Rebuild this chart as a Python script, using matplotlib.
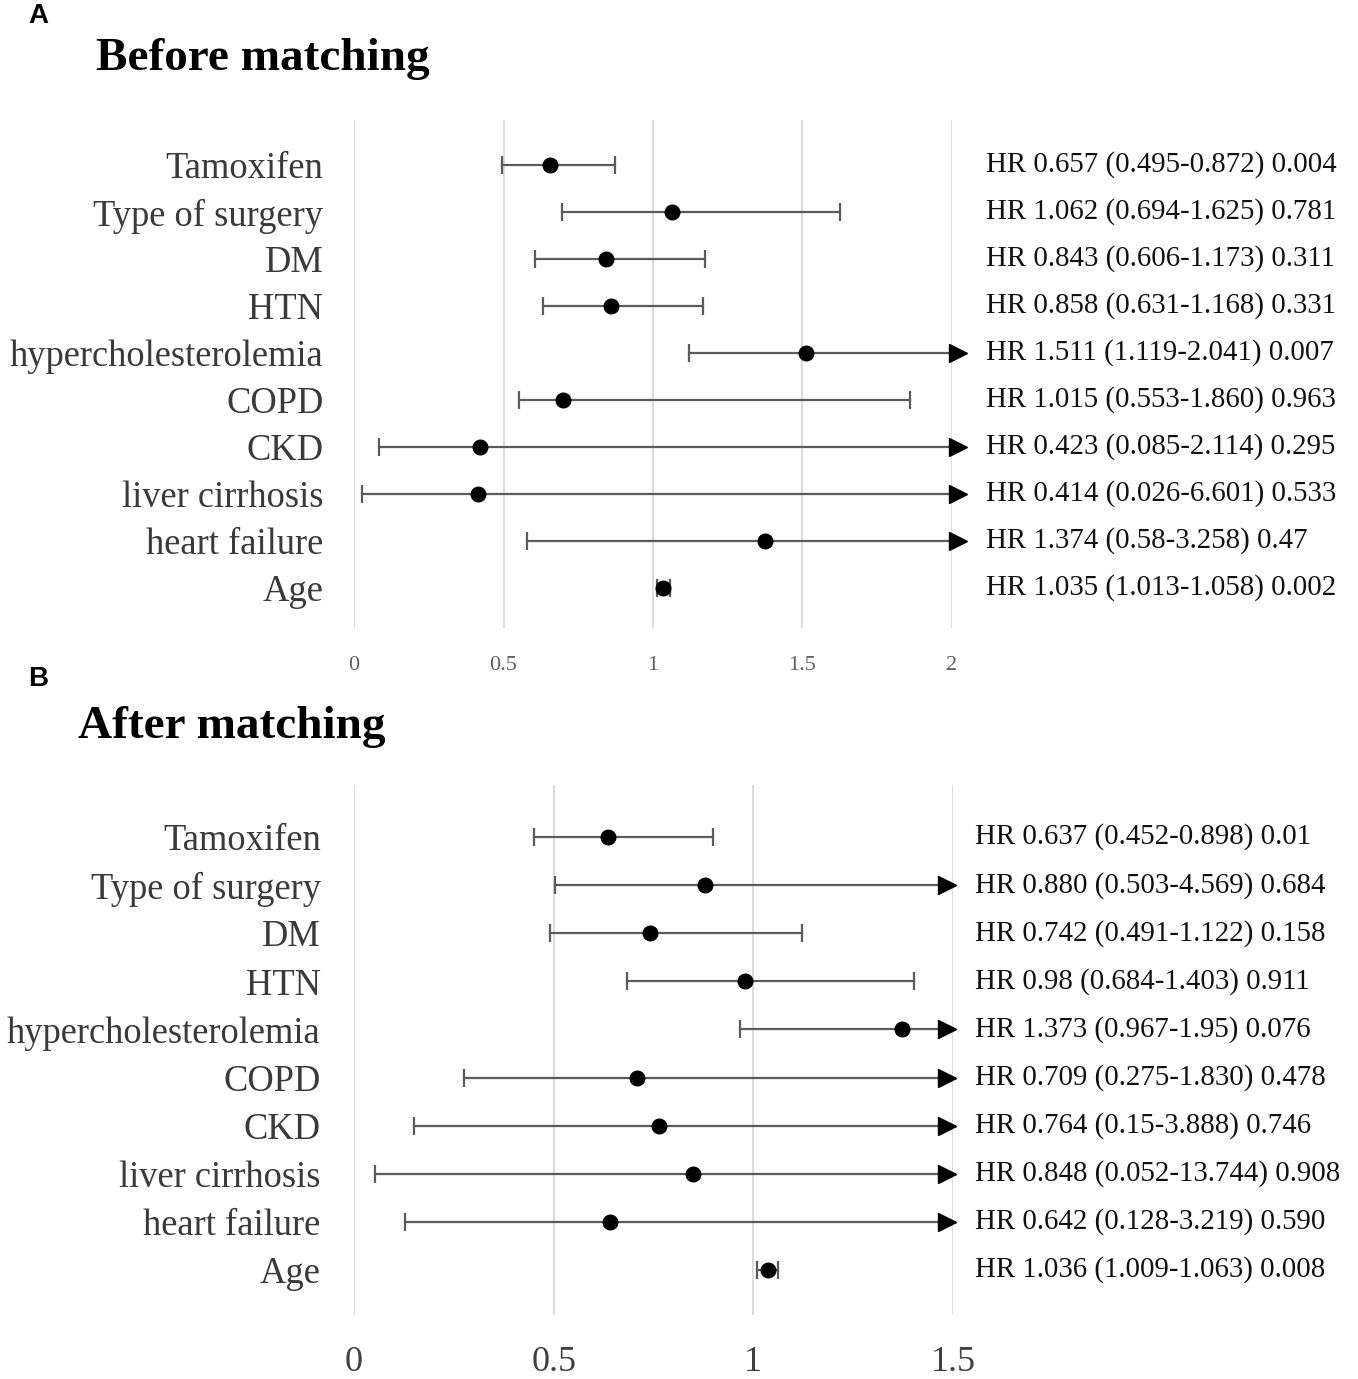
import matplotlib
matplotlib.use("Agg")
import matplotlib.pyplot as plt
import matplotlib.transforms as mtransforms

plt.rcParams['font.family'] = ['Liberation Serif', 'DejaVu Serif']

categories = ["Tamoxifen", "Type of surgery", "DM", "HTN", "hypercholesterolemia",
              "COPD", "CKD", "liver cirrhosis", "heart failure", "Age"]

# Panel A: before matching (point positions as drawn in the picture)
hr_a = [0.657, 1.062, 0.843, 0.858, 1.511, 0.70, 0.423, 0.414, 1.374, 1.035]
lo_a = [0.495, 0.694, 0.606, 0.631, 1.119, 0.553, 0.085, 0.026, 0.58, 1.013]
hi_a = [0.872, 1.625, 1.173, 1.168, 2.041, 1.860, 2.114, 6.601, 3.258, 1.058]
txt_a = ["HR 0.657 (0.495-0.872) 0.004", "HR 1.062 (0.694-1.625) 0.781",
         "HR 0.843 (0.606-1.173) 0.311", "HR 0.858 (0.631-1.168) 0.331",
         "HR 1.511 (1.119-2.041) 0.007", "HR 1.015 (0.553-1.860) 0.963",
         "HR 0.423 (0.085-2.114) 0.295", "HR 0.414 (0.026-6.601) 0.533",
         "HR 1.374 (0.58-3.258) 0.47", "HR 1.035 (1.013-1.058) 0.002"]
ticks_a = [0, 0.5, 1, 1.5, 2]
ticklabels_a = ["0", "0.5", "1", "1.5", "2"]

# Panel B: after matching
hr_b = [0.637, 0.880, 0.742, 0.98, 1.373, 0.709, 0.764, 0.848, 0.642, 1.036]
lo_b = [0.452, 0.503, 0.491, 0.684, 0.967, 0.275, 0.15, 0.052, 0.128, 1.009]
hi_b = [0.898, 4.569, 1.122, 1.403, 1.95, 1.830, 3.888, 13.744, 3.219, 1.063]
txt_b = ["HR 0.637 (0.452-0.898) 0.01", "HR 0.880 (0.503-4.569) 0.684",
         "HR 0.742 (0.491-1.122) 0.158", "HR 0.98 (0.684-1.403) 0.911",
         "HR 1.373 (0.967-1.95) 0.076", "HR 0.709 (0.275-1.830) 0.478",
         "HR 0.764 (0.15-3.888) 0.746", "HR 0.848 (0.052-13.744) 0.908",
         "HR 0.642 (0.128-3.219) 0.590", "HR 1.036 (1.009-1.063) 0.008"]
ticks_b = [0, 0.5, 1, 1.5]
ticklabels_b = ["0", "0.5", "1", "1.5"]

W, H = 1358, 1379
fig = plt.figure(figsize=(W / 100, H / 100), dpi=100)
fig.patch.set_facecolor('white')

LINE = '#5a5a5a'
GRID = '#d9d9d9'


def panel(box, hr, lo, hi, txt, ticks, ticklabels, ylim, arrow_off_px,
          tick_fs, tick_color, tick_pad, lab_pad, txt_x):
    l, t, r, b = box
    ax = fig.add_axes([l / W, 1 - b / H, (r - l) / W, (b - t) / H])
    xmax = ticks[-1]
    ax.set_xlim(0, xmax)
    ax.set_ylim(*ylim)
    for s in ax.spines.values():
        s.set_visible(False)
    ax.set_xticks(ticks)
    ax.set_xticklabels(ticklabels, fontsize=tick_fs, color=tick_color)
    ax.tick_params(axis='x', length=0, pad=tick_pad)
    ax.grid(axis='x', color=GRID, lw=1.3)
    ax.set_axisbelow(True)
    ys = list(range(len(categories)))
    ax.set_yticks(ys)
    ax.set_yticklabels(categories, fontsize=26.3, color='#3a3a3a')
    ax.tick_params(axis='y', length=0, pad=lab_pad)
    off = mtransforms.offset_copy(ax.transData, fig=fig, x=arrow_off_px / 100,
                                  y=0, units='inches')
    for i, y in enumerate(ys):
        right = min(hi[i], xmax)
        ax.plot([lo[i], right], [y, y], color=LINE, lw=1.6, zorder=2)
        ax.plot([lo[i]], [y], marker='|', ms=13, mew=1.6, color=LINE, zorder=2)
        if hi[i] > xmax:
            ax.plot([xmax], [y], marker='>', ms=13, color='black', mec='black',
                    transform=off, clip_on=False, zorder=3)
        else:
            ax.plot([hi[i]], [y], marker='|', ms=13, mew=1.6, color=LINE, zorder=2)
        ax.plot([hr[i]], [y], marker='o', ms=10.5, color='black', zorder=4)
        ax.text(txt_x, y, txt[i], transform=ax.get_yaxis_transform(),
                ha='left', va='center', fontsize=20.8, color='#111111')
    return ax


panel((354, 120, 952, 628), hr_a, lo_a, hi_a, txt_a, ticks_a, ticklabels_a,
      (9.851, -0.957), 6, 16, '#606060', 20, 22, 1.057)
panel((354, 785, 953, 1315), hr_b, lo_b, hi_b, txt_b, ticks_b, ticklabels_b,
      (9.935, -1.08), -6, 26, '#404040', 22, 24, 1.037)

fig.text(28 / W, 1 - 16 / H, "A", family='Liberation Sans', fontweight='bold',
         fontsize=20, ha='left', va='center')
fig.text(96 / W, 1 - 59 / H, "Before matching", fontweight='bold',
         fontsize=34, ha='left', va='center')
fig.text(28 / W, 1 - 679 / H, "B", family='Liberation Sans', fontweight='bold',
         fontsize=20, ha='left', va='center')
fig.text(78 / W, 1 - 727 / H, "After matching", fontweight='bold',
         fontsize=34, ha='left', va='center')

fig.savefig("out.png", dpi=100, facecolor='white')
